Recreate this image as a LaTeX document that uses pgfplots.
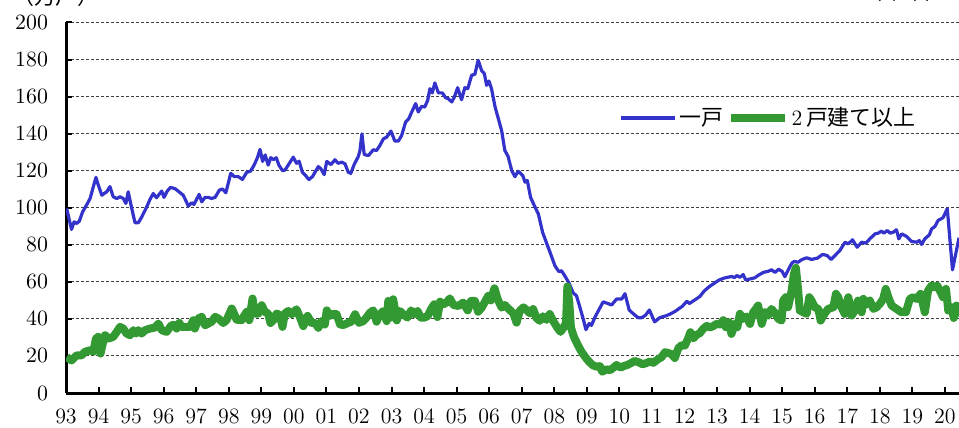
\documentclass[border=0pt]{standalone}
\usepackage{fontspec}
\usepackage{pgfplots}
\pgfplotsset{compat=1.18}
\newfontfamily\cjk{Noto Sans CJK JP}
\definecolor{lineblue}{RGB}{51,51,204}
\definecolor{linegreen}{RGB}{51,153,51}
\begin{document}
\begin{tikzpicture}
\begin{axis}[
  at={(0,0)}, anchor=south west,
  scale only axis, width=446.5bp, height=185.25bp,
  xmin=1993, xmax=2020.43, ymin=0, ymax=200,
  axis x line=bottom, axis y line=left,
  axis line style={-, line width=1.5bp, black},
  tick align=inside, major tick length=3bp,
  tick style={line width=1bp, black},
  xtick={1993,...,2020},
  xticklabels={93,94,95,96,97,98,99,00,01,02,03,04,05,06,07,08,09,10,11,12,13,14,15,16,17,18,19,20},
  ytick={0,20,...,200},
  ymajorgrids,
  grid style={black!75, line width=0.5bp, dash pattern=on 1.5bp off 1bp},
  tick label style={font=\fontsize{11}{13}\selectfont},
  xticklabel style={yshift=-4.5bp},
  yticklabel style={xshift=-5.5bp},
  legend style={draw=none, fill=none, at={(0.6195,0.742)}, anchor=west,
    inner sep=0pt, font=\fontsize{11}{13}\selectfont,
    nodes={inner xsep=1.5bp, inner ysep=1bp},
    /tikz/every even column/.append style={column sep=0bp}},
  legend columns=-1,
  legend image code/.code={\draw[#1] (0bp,0bp) -- (27bp,0bp);},
]
\addplot[lineblue, line width=1.6bp, line join=round] coordinates {
(1993.02,99.6)(1993.17,88.3)(1993.25,92.4)(1993.33,91.5)(1993.41,92.8)(1993.51,97.8)(1993.63,101.4)(1993.74,105)(1993.84,111.4)(1993.92,116.4)(1993.99,112.3)
(1994.10,106.8)(1994.25,108.6)(1994.35,111.4)(1994.45,105.9)(1994.56,105)(1994.66,105.9)(1994.76,105)(1994.84,102.3)(1994.91,108.6)
(1995.02,99.6)(1995.12,91.9)(1995.22,91.9)(1995.32,94.8)(1995.48,100.5)(1995.58,104.5)(1995.68,107.7)(1995.78,105.4)(1995.94,109)
(1996.01,105.6)(1996.11,109)(1996.21,111)(1996.35,110.3)(1996.47,108.6)(1996.60,106.8)(1996.76,100.9)(1996.86,102.7)(1996.93,101.8)
(1997.09,107.2)(1997.17,103.2)(1997.27,105.6)(1997.37,105.6)(1997.47,105)(1997.58,105.6)(1997.71,109.5)(1997.81,110.1)(1997.91,108.1)
(1998.06,118.6)(1998.17,116.8)(1998.29,116.8)(1998.42,115.3)(1998.55,119.1)(1998.67,119.8)(1998.78,123.1)(1998.88,127)(1998.96,131.5)
(1999.04,125)(1999.12,128.5)(1999.21,123)(1999.29,127)(1999.37,126)(1999.46,127)(1999.54,123)(1999.65,120)(1999.73,120.4)(1999.85,123.7)(1999.98,127.3)
(2000.08,124)(2000.16,125.1)(2000.26,119.2)(2000.36,117.4)(2000.46,115.2)(2000.57,116.8)(2000.65,119.2)(2000.75,122.2)(2000.83,121)(2000.93,117.9)
(2001.01,125)(2001.14,123.3)(2001.26,125.9)(2001.36,124)(2001.47,124.6)(2001.57,123.7)(2001.67,119.2)(2001.75,118.6)(2001.85,123.3)(2001.98,127.7)
(2002.03,130.9)(2002.09,139.9)(2002.16,128.7)(2002.29,128.2)(2002.44,131.3)(2002.54,130.9)(2002.64,133.6)(2002.75,137.2)(2002.85,138.1)(2002.98,141.4)
(2003.10,136)(2003.21,136)(2003.31,139)(2003.43,146.2)(2003.53,148.1)(2003.62,151.7)(2003.74,156.2)(2003.82,151.7)(2003.92,154.7)
(2004.02,154.4)(2004.11,158)(2004.18,164.3)(2004.25,162)(2004.33,167.4)(2004.44,162)(2004.56,162)(2004.66,159.4)(2004.74,158.9)(2004.85,157.1)(2004.93,159.8)
(2005.03,164.8)(2005.15,158.3)(2005.25,164.8)(2005.34,164.3)(2005.46,171.5)(2005.56,172.1)(2005.66,179.6)(2005.77,173.9)(2005.85,172.4)(2005.92,166.1)(2005.99,168.4)
(2006.07,164.3)(2006.18,154.4)(2006.28,148.1)(2006.38,141.7)(2006.48,130.9)(2006.58,127.7)(2006.69,120.1)(2006.79,116.8)(2006.89,119.7)
(2007.03,117.4)(2007.10,113.8)(2007.17,114.7)(2007.27,105.6)(2007.40,100.6)(2007.51,96.6)(2007.64,86.7)(2007.76,81)(2007.89,74.9)
(2008.02,68.6)(2008.14,65.5)(2008.22,66)(2008.33,63)(2008.46,59)(2008.58,54)(2008.68,52.5)(2008.79,46)(2008.89,39.8)(2008.97,34.2)
(2009.07,37.5)(2009.14,36.5)(2009.25,41)(2009.35,44.3)(2009.50,49.2)(2009.66,48.2)(2009.76,47.5)(2009.91,50.7)
(2010.07,50.7)(2010.17,53.6)(2010.30,44.8)(2010.45,42.4)(2010.58,40.6)(2010.68,40.6)(2010.80,42)(2010.92,44.8)
(2011.08,38.4)(2011.24,40.7)(2011.42,41.6)(2011.58,42.8)(2011.73,44.3)(2011.93,46.8)
(2012.07,49.5)(2012.15,48.3)(2012.32,50.3)(2012.47,52.1)(2012.60,55)(2012.75,57.3)(2012.90,59.1)
(2013.05,60.9)(2013.21,62)(2013.36,62.6)(2013.45,62.9)(2013.53,62.3)(2013.61,63.4)(2013.70,62.5)(2013.80,63.9)(2013.88,61)
(2014.02,61.6)(2014.16,62.2)(2014.26,63.5)(2014.42,65.1)(2014.57,65.7)(2014.67,66.5)(2014.78,65.1)(2014.89,66.8)
(2015.00,65.6)(2015.08,62.8)(2015.20,67)(2015.30,70.2)(2015.37,71)(2015.49,70.6)(2015.59,71.9)(2015.75,73)(2015.90,72.1)
(2016.08,72.8)(2016.24,74.8)(2016.38,74.2)(2016.50,72.1)(2016.62,74.2)(2016.77,76.9)(2016.93,81.4)
(2017.03,80.5)(2017.16,82.7)(2017.30,78.7)(2017.44,81.4)(2017.57,80.9)(2017.69,83.2)(2017.85,85.9)(2017.95,86.3)
(2018.05,87.4)(2018.12,86.3)(2018.23,87.7)(2018.31,86.3)(2018.41,86.8)(2018.51,88.1)(2018.58,83.2)(2018.67,85.9)(2018.82,84.5)(2018.97,81.8)
(2019.13,81.4)(2019.21,82.3)(2019.28,80.2)(2019.38,83.2)(2019.52,85.4)(2019.59,88.6)(2019.69,89.9)(2019.79,93.2)(2019.94,94.6)
(2020.07,99.5)(2020.23,66.5)(2020.43,83.8)
};
\addlegendentry{\cjk 一戸}
\addplot[linegreen, line width=4bp, line join=round] coordinates {
(1993.02,19.4)(1993.17,17.6)(1993.33,20.3)(1993.48,20.3)(1993.58,22.2)(1993.74,23.1)(1993.84,22.2)(1993.92,29.4)(1993.99,30.3)
(1994.06,21.3)(1994.13,26.7)(1994.20,31.2)(1994.30,29.4)(1994.45,30.3)(1994.56,33)(1994.66,35.7)(1994.76,34.8)(1994.86,32.1)(1994.97,31.2)
(1995.07,33.9)(1995.15,32.1)(1995.22,33.9)(1995.32,32.1)(1995.43,33.9)(1995.58,34.8)(1995.73,35.3)(1995.84,37.5)(1995.94,33.9)
(1996.09,33)(1996.24,36.6)(1996.35,36.6)(1996.40,34.8)(1996.48,37.8)(1996.55,35.7)(1996.71,35.7)(1996.81,35.7)(1996.91,39.3)(1996.96,34.8)
(1997.06,40.2)(1997.17,41.1)(1997.27,36.6)(1997.37,37.5)(1997.47,38.4)(1997.58,41.1)(1997.68,40.2)(1997.83,37.8)(1997.93,39.3)
(1998.09,45.6)(1998.14,43.8)(1998.24,39.6)(1998.39,39.3)(1998.55,43.8)(1998.63,39.3)(1998.73,51)(1998.80,42.9)(1998.91,42.9)
(1999.01,47.4)(1999.11,43.8)(1999.21,42.9)(1999.28,37.8)(1999.37,39.3)(1999.47,42.9)(1999.57,42)(1999.65,35.7)(1999.72,42.9)(1999.83,44.3)(1999.93,42.5)
(2000.08,45.2)(2000.19,40.7)(2000.29,36.1)(2000.42,41.6)(2000.54,37.9)(2000.65,37.9)(2000.75,35.2)(2000.85,38.8)(2000.95,37)
(2001.01,44.6)(2001.11,41.6)(2001.21,42.8)(2001.31,42.5)(2001.42,37)(2001.52,36.7)(2001.67,37.9)(2001.77,38.5)(2001.88,42.5)
(2002.00,37.9)(2002.13,38.8)(2002.23,40.7)(2002.34,43.4)(2002.44,44.6)(2002.54,38.5)(2002.64,42.5)(2002.75,44.3)(2002.85,38.8)(2002.90,49.7)(2002.98,40.7)
(2003.05,50.6)(2003.16,39.2)(2003.26,44.3)(2003.36,42.5)(2003.49,40.7)(2003.60,44.6)(2003.70,42.5)(2003.80,44.3)(2003.90,40.7)
(2004.01,40.7)(2004.11,41.6)(2004.21,45.2)(2004.31,47.9)(2004.41,41)(2004.49,49.3)(2004.59,47.9)(2004.69,48.8)(2004.79,51.1)(2004.90,47.5)
(2005.05,47)(2005.20,48.8)(2005.34,44.6)(2005.44,49.7)(2005.56,49.7)(2005.66,43.9)(2005.77,46.1)(2005.87,49.3)(2005.97,52.4)
(2006.05,50)(2006.16,56.5)(2006.26,50.6)(2006.38,46.1)(2006.48,47.5)(2006.61,45.2)(2006.74,43)(2006.84,38)(2006.94,44.4)
(2007.05,46.2)(2007.15,44.8)(2007.25,43)(2007.35,45.3)(2007.45,40.5)(2007.55,39)(2007.65,41.4)(2007.76,39.5)(2007.86,42.6)(2007.96,39)
(2008.09,35.3)(2008.19,33)(2008.30,35.8)(2008.36,38)(2008.40,57.5)(2008.46,48.5)(2008.51,35.3)(2008.60,30.4)(2008.71,26.3)(2008.82,22.7)(2008.94,19.6)
(2009.06,17)(2009.18,15)(2009.30,14.2)(2009.40,14.5)(2009.47,11.5)(2009.61,12.8)(2009.71,12.3)(2009.81,13.6)(2009.91,15.1)
(2010.04,13.7)(2010.14,14.6)(2010.24,15.1)(2010.35,16.1)(2010.47,17.3)(2010.60,16.5)(2010.71,15.5)(2010.83,16.2)(2010.94,17)
(2011.04,16.3)(2011.19,18.3)(2011.29,19.3)(2011.40,22)(2011.50,21.6)(2011.60,21)(2011.70,18.9)(2011.81,24.2)(2011.91,25.8)
(2012.01,25.6)(2012.11,29.5)(2012.18,32.8)(2012.27,29.5)(2012.37,31.4)(2012.47,32.3)(2012.57,34.6)(2012.68,36.2)(2012.78,35.4)(2012.88,36.1)(2012.98,37.3)
(2013.09,37)(2013.19,39.3)(2013.27,35.5)(2013.37,38.2)(2013.44,31.9)(2013.55,37.3)(2013.62,35.5)(2013.70,42.7)(2013.80,40)(2013.90,41.3)
(2014.01,37.3)(2014.11,43.6)(2014.19,45.4)(2014.26,47.2)(2014.37,37.3)(2014.47,43.6)(2014.57,41.8)(2014.67,45.4)(2014.78,43.1)(2014.88,40)(2014.98,39.1)
(2015.03,49.9)(2015.11,51.7)(2015.18,46.3)(2015.29,55.3)(2015.36,64.3)(2015.42,67.6)(2015.49,55.3)(2015.54,44.5)(2015.65,43.6)(2015.75,42.7)(2015.83,51.7)(2015.90,49.9)
(2016.00,46.3)(2016.11,45.4)(2016.18,39.1)(2016.26,41.8)(2016.41,45.4)(2016.57,46.3)(2016.65,53.5)(2016.72,51.7)(2016.82,46.3)(2016.92,42.7)
(2017.03,51.7)(2017.08,47.2)(2017.13,41.8)(2017.23,44.5)(2017.33,49.9)(2017.44,43.6)(2017.49,50.8)(2017.59,47.7)(2017.69,49.9)(2017.80,45.4)(2017.90,46.3)
(2018.00,48.1)(2018.10,50.8)(2018.18,56.2)(2018.26,51.7)(2018.36,47.2)(2018.51,45.4)(2018.66,43.6)(2018.80,43.6)(2018.92,50.8)
(2019.02,51.7)(2019.13,50.8)(2019.25,53.5)(2019.38,43.6)(2019.48,55.3)(2019.59,58)(2019.69,57.1)(2019.76,58)(2019.84,55.3)(2019.94,51.7)
(2020.03,56.2)(2020.10,44.5)(2020.20,46.3)(2020.27,40.5)(2020.35,47.2)(2020.43,41.3)
};
\addlegendentry{2\,\cjk 戸建て以上}
\end{axis}
\node[anchor=base, font=\cjk\fontsize{11}{13}\selectfont, inner sep=0pt] at (-5bp,194bp) {（万戸）};
\node[anchor=base, font=\cjk\fontsize{11}{13}\selectfont, inner sep=0pt] at (419bp,196.6bp) {（年率）};
\pgfresetboundingbox
\useasboundingbox (-33bp,-17.5bp) rectangle (446.5bp,196.5bp);
\end{tikzpicture}
\end{document}
